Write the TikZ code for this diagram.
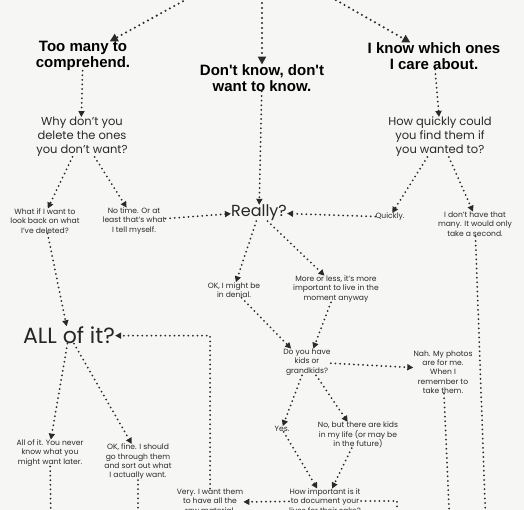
\documentclass[tikz,border=0pt]{standalone}
\usepackage{fontspec}
\setmainfont{Poppins}
\newfontfamily\headfont{Liberation Sans}
\usetikzlibrary{arrows.meta}

% Define colours
\definecolor{paperColour}{HTML}{F6F6F4}
\definecolor{inkColour}{HTML}{2A2A2A}

\tikzset{
  heading/.style={font=\headfont\bfseries\fontsize{15}{15.5}\selectfont, align=center, text=black, inner sep=0pt},
  question/.style={font=\fontsize{11.5}{14}\selectfont, align=center, text=inkColour, inner sep=0pt},
  reply/.style={font=\fontsize{7.6}{9.3}\selectfont, align=center, text=inkColour, inner sep=0pt},
  shout/.style={font=\fontsize{#1}{#1}\selectfont, text=black!85, inner sep=0pt},
  dots/.style={inkColour, line width=2pt, dash pattern=on 0pt off 4.6pt, line cap=round,
    -{Triangle[width=6pt,length=6pt]}},
  bigdots/.style={dots, line width=2.3pt, dash pattern=on 0pt off 5pt, -{Triangle[width=8pt,length=8pt]}},
  plaindots/.style={inkColour, line width=2pt, dash pattern=on 0pt off 4.6pt, line cap=round}
}

\begin{document}
\begin{tikzpicture}[x=1pt, y=-1pt]
    % Page and background
    \useasboundingbox (0,0) rectangle (524,510);
    \fill[paperColour] (0,0) rectangle (524,510);
    \clip (0,0) rectangle (524,510);

    % Source above the page and the loose ends below it
    \coordinate (src) at (262,-42);
    \coordinate (offA) at (51,530);
    \coordinate (offB) at (138,530);
    \coordinate (offC) at (486,530);
    \coordinate (offD) at (450,530);
    \coordinate (offE) at (397,530);

    % Headings
    \node[heading] (toomany) at (83,56) {Too many to\\comprehend.};
    \node[heading] (dontknow) at (262,78) {Don't know, don't\\want to know.};
    \node[heading] (iknow) at (434,56) {I know which ones\\I care about.};

    % Questions
    \node[question] (why) at (82,137) {Why don't you\\delete the ones\\you don't want?};
    \node[question] (howquick) at (440,137) {How quickly could\\you find them if\\you wanted to?};
    \node[shout=16] (really) at (259,213) {Really?};
    \node[shout=22] (allofit) at (69,335) {ALL of it?};

    % Answers
    \node[reply] (whatif) at (45,221) {What if I want to\\look back on what\\I've deleted?};
    \node[reply] (notime) at (134,221) {No time. Or at\\least that's what\\I tell myself.};
    \node[reply] (quickly) at (390,217) {Quickly.};
    \node[reply] (donthave) at (475,224) {I don't have that\\many. It would only\\take a second.};
    \node[reply] (denial) at (234,290) {OK, I might be\\in denial.};
    \node[reply] (moreless) at (336,289) {More or less, it's more\\important to live in the\\moment anyway};
    \node[reply] (dohave) at (307,362) {Do you have\\kids or\\grandkids?};
    \node[reply] (nah) at (443,372) {Nah. My photos\\are for me.\\When I\\remember to\\take them.};
    \node[reply] (yes) at (282,429) {Yes.};
    \node[reply] (nobut) at (358,435) {No, but there are kids\\in my life (or may be\\in the future)};
    \node[reply] (howimp) at (325,501) {How important is it\\to document your\\lives for their sake?};
    \node[reply] (very) at (210,501) {Very. I want them\\to have all the\\raw material.};
    \node[reply] (never) at (50,453) {All of it. You never\\know what you\\might want later.};
    \node[reply] (okfine) at (138,462) {OK, fine. I should\\go through them\\and sort out what\\I actually want.};

    % Top branches
    \draw[bigdots] (src) -- ([shift={(62,-20)}]toomany);
    \draw[bigdots] (src) -- ([shift={(0,-22)}]dontknow);
    \draw[bigdots] (src) -- ([shift={(-69,-20)}]iknow);

    % Down to the questions
    \draw[dots] ([shift={(-3,20)}]toomany) -- ([shift={(-2,-25)}]why);
    \draw[dots] ([shift={(3,20)}]iknow) -- ([shift={(-3,-25)}]howquick);
    \draw[dots] ([shift={(0,20)}]dontknow) -- ([shift={(3,-18)}]really);

    % Left branch
    \draw[dots] ([shift={(-24,26)}]why) -- ([shift={(0,-23)}]whatif);
    \draw[dots] ([shift={(20,26)}]why) -- ([shift={(-19,-23)}]notime);
    \draw[dots] ([shift={(39,-6)}]notime) -- ([shift={(-37,2)}]really);
    \draw[dots] ([shift={(-2,19)}]whatif) -- ([shift={(-26,-25)}]allofit);

    % Right branch
    \draw[dots] ([shift={(-21,26)}]howquick) -- ([shift={(15,-16)}]quickly);
    \draw[dots] ([shift={(25,26)}]howquick) -- ([shift={(4,-22)}]donthave);
    \draw[dots] ([shift={(-24,-2)}]quickly) -- ([shift={(50,2)}]really);
    \draw[plaindots] ([shift={(11,19)}]donthave) -- (offC);

    % Middle branch
    \draw[dots] ([shift={(-10,17)}]really) -- ([shift={(1,-18)}]denial);
    \draw[dots] ([shift={(28,19)}]really) -- ([shift={(-18,-20)}]moreless);
    \draw[dots] ([shift={(3,13)}]denial) -- ([shift={(-27,-21)}]dohave);
    \draw[dots] ([shift={(-2,16)}]moreless) -- ([shift={(13,-21)}]dohave);
    \draw[dots] ([shift={(29,-6)}]dohave) -- ([shift={(-35,-16)}]nah);
    \draw[plaindots] ([shift={(7,21)}]nah) -- (offD);
    \draw[dots] ([shift={(-12,18)}]dohave) -- ([shift={(4,-12)}]yes);
    \draw[dots] ([shift={(10,21)}]dohave) -- ([shift={(-22,-17)}]nobut);
    \draw[dots] ([shift={(3,8)}]yes) -- ([shift={(-20,-21)}]howimp);
    \draw[dots] ([shift={(-5,17)}]nobut) -- ([shift={(18,-21)}]howimp);
    \draw[dots] ([shift={(-42,2)}]howimp) -- ([shift={(38,2)}]very);
    \draw[plaindots] ([shift={(44,0)}]howimp) -| (offE);
    \draw[dots] ([shift={(1,-24)}]very) |- ([shift={(68,2)}]allofit);

    % Bottom left
    \draw[dots] ([shift={(-13,17)}]allofit) -- ([shift={(-7,-25)}]never);
    \draw[dots] ([shift={(31,18)}]allofit) -- ([shift={(-6,-27)}]okfine);
    \draw[plaindots] ([shift={(1,19)}]never) -- (offA);
    \draw[plaindots] ([shift={(0,26)}]okfine) -- (offB);
\end{tikzpicture}
\end{document}
